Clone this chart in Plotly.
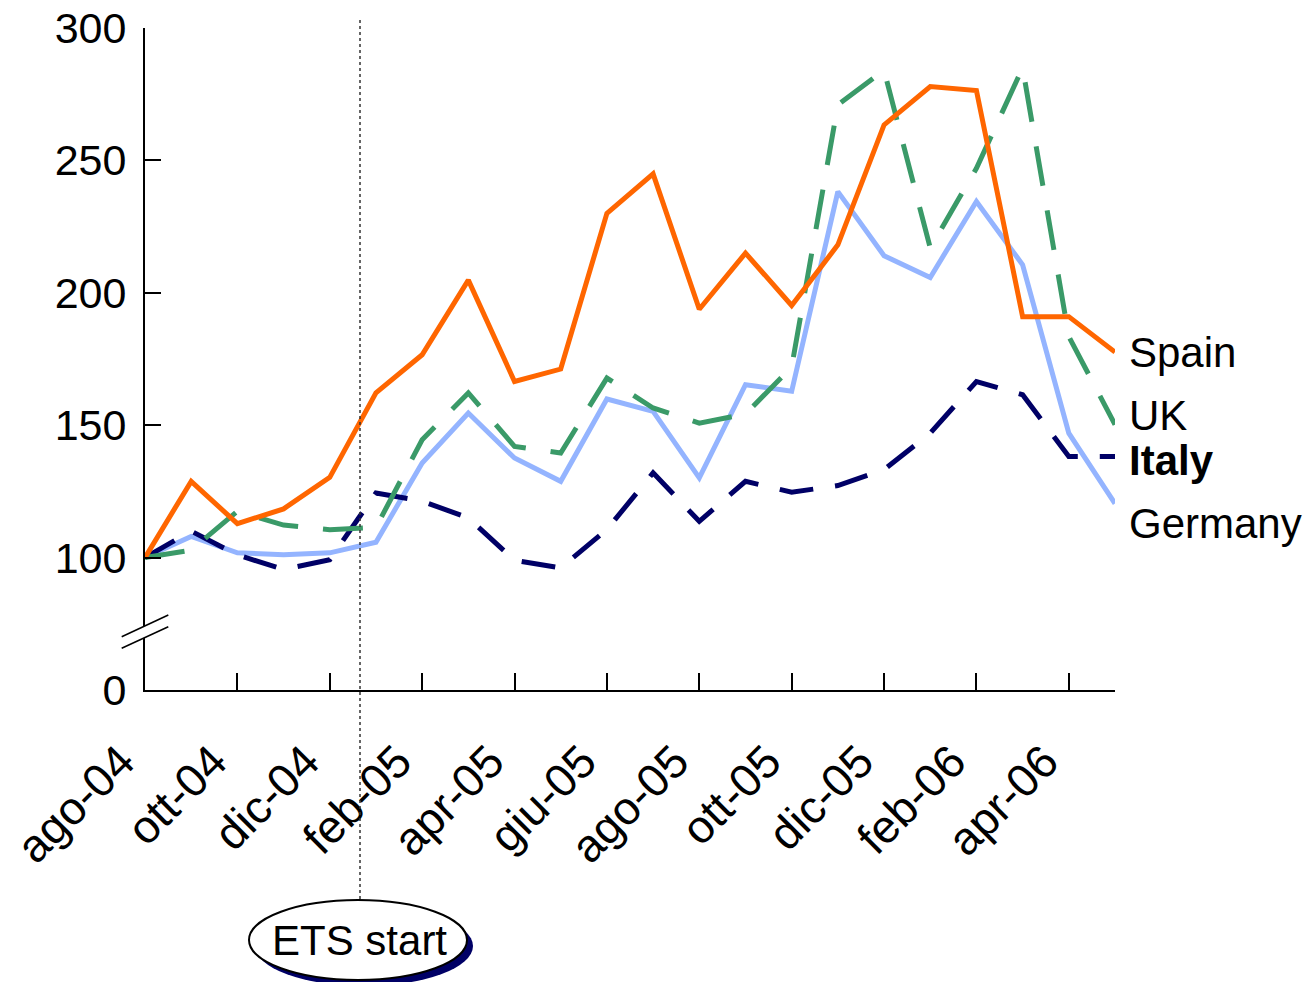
import plotly.graph_objects as go

months = ["ago-04", "set-04", "ott-04", "nov-04", "dic-04", "gen-05", "feb-05", "mar-05",
          "apr-05", "mag-05", "giu-05", "lug-05", "ago-05", "set-05", "ott-05", "nov-05",
          "dic-05", "gen-06", "feb-06", "mar-06", "apr-06", "mag-06"]

spain = [100, 128.8, 112.8, 118.4, 130.3, 162.2, 176.6, 204.8, 166.5, 171.2, 230.0, 244.9,
         193.8, 215.0, 195.2, 218.1, 263.4, 277.9, 276.4, 191.0, 191.0, 177.6]
uk = [100, 102.8, 117.5, 112.3, 110.5, 111.4, 144.5, 162.2, 142.0, 139.5, 167.8, 156.5,
      150.8, 154.2, 172.0, 271.0, 284.0, 216.9, 247.0, 285.0, 183.5, 150.2]
italy = [100, 110.0, 101.0, 95.5, 99.2, 124.4, 121.3, 115.0, 99.0, 96.1, 110.6, 132.0,
         113.7, 128.8, 124.7, 127.2, 133.2, 147.0, 166.5, 161.5, 138.2, 138.2]
germany = [100, 108.0, 101.8, 101.1, 101.8, 105.8, 135.7, 154.6, 137.6, 128.8, 159.9, 155.2,
           130.1, 165.3, 162.8, 238.2, 214.0, 205.8, 234.5, 210.6, 147.0, 120.4]

tick_idx = list(range(0, 22, 2))
tick_text = [months[i] for i in tick_idx]
y_tickvals = [50, 100, 150, 200, 250, 300]
y_ticktext = ["0", "100", "150", "200", "250", "300"]

series = [
    ("Germany", germany, "#94B4FF", "solid"),
    ("Italy", italy, "#000066", "34px,22px"),
    ("UK", uk, "#3A9A68", "40px,25px"),
    ("Spain", spain, "#FF6600", "solid"),
]

FONT = "Liberation Sans, Arial, Helvetica, sans-serif"
W, H = 1307, 982
L, R, T, B = 145, 1115, 28, 690  # plot area in page pixels

def px(x):
    return (x - L) / (R - L)

def py(y):
    return (B - y) / (B - T)

x = list(range(len(months)))
fig = go.Figure()
for name, vals, color, dash in series:
    fig.add_trace(go.Scatter(x=x, y=vals, mode="lines", name=name,
                             line=dict(color=color, width=5, dash=dash),
                             cliponaxis=False))

shapes = []
shapes.append(dict(type="line", xref="paper", yref="paper", x0=px(360), x1=px(360),
                   y0=py(20), y1=py(900), line=dict(color="#333333", width=1.5, dash="dot")))
shapes.append(dict(type="circle", xref="paper", yref="paper", x0=px(255), x1=px(473),
                   y0=py(906), y1=py(986), fillcolor="#000066", line=dict(width=0)))
shapes.append(dict(type="circle", xref="paper", yref="paper", x0=px(249), x1=px(467),
                   y0=py(900), y1=py(980), fillcolor="white", line=dict(color="black", width=2)))
shapes.append(dict(type="path", xref="paper", yref="paper",
                   path=f"M {px(121.7)},{py(636.7)} L {px(168.3)},{py(615)} L {px(168.3)},{py(626.7)} L {px(121.7)},{py(648.3)} Z",
                   fillcolor="white", line=dict(width=0)))
shapes.append(dict(type="line", xref="paper", yref="paper", x0=px(121.7), y0=py(636.7),
                   x1=px(168.3), y1=py(615), line=dict(color="black", width=1.5)))
shapes.append(dict(type="line", xref="paper", yref="paper", x0=px(121.7), y0=py(648.3),
                   x1=px(168.3), y1=py(626.7), line=dict(color="black", width=1.5)))

annotations = [
    dict(text="ETS start", xref="paper", yref="paper", x=px(359), y=py(940),
         showarrow=False, font=dict(size=42, color="black", family=FONT),
         xanchor="center", yanchor="middle"),
]
labels = [("Spain", 352, False), ("UK", 415, False), ("Italy", 460, True), ("Germany", 523, False)]
for txt, ypix, bold in labels:
    annotations.append(dict(text=f"<b>{txt}</b>" if bold else txt, xref="paper", yref="paper",
                            x=px(1127), y=py(ypix), showarrow=False, xanchor="left",
                            yanchor="middle", font=dict(size=42, color="black", family=FONT)))

fig.update_layout(
    width=W, height=H,
    margin=dict(l=L, r=W - R, t=T, b=H - B, autoexpand=False),
    paper_bgcolor="white", plot_bgcolor="white",
    showlegend=False,
    font=dict(family=FONT, size=42, color="black"),
    xaxis=dict(range=[0, 21], tickvals=tick_idx, ticktext=tick_text, tickangle=-45,
               ticks="inside", ticklen=17, tickwidth=1.5, tickcolor="black", automargin=False,
               showline=True, linecolor="black", linewidth=2, showgrid=False, zeroline=False,
               tickfont=dict(size=46, family=FONT), ticklabelstandoff=24, ticklabelshift=-24,
               ticklabeloverflow="allow"),
    yaxis=dict(range=[50, 300], tickvals=y_tickvals, ticktext=y_ticktext, automargin=False,
               ticks="inside", ticklen=16, tickwidth=1.5, tickcolor="black",
               showline=True, linecolor="black", linewidth=2, showgrid=False, zeroline=False,
               tickfont=dict(size=43, family=FONT), ticklabelstandoff=8,
               ticklabeloverflow="allow"),
    shapes=shapes, annotations=annotations,
)

fig.write_html("out.html", config={"displayModeBar": False},
               post_script="document.body.style.margin='0px';")
